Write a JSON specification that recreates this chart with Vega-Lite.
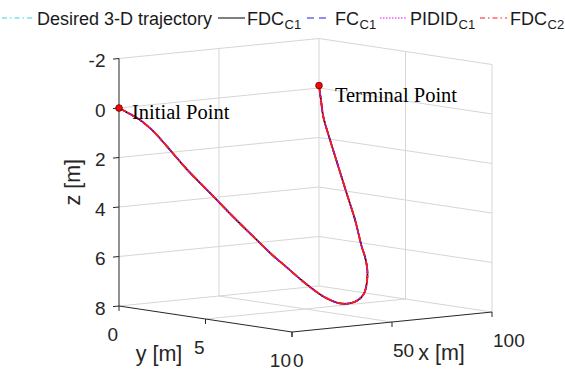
{
"$schema":"https://vega.github.io/schema/vega-lite/v6.json",
"width":565,"height":370,"padding":0,"autosize":{"type":"none"},
"background":"white",
"config":{"view":{"stroke":null},"text":{"font":"Liberation Sans"}},
"datasets":{
 "grid":[
  {"x1":0,"y1":0,"z1":-2,"x2":100,"y2":0,"z2":-2},
  {"x1":0,"y1":0,"z1":0,"x2":100,"y2":0,"z2":0},
  {"x1":0,"y1":0,"z1":2,"x2":100,"y2":0,"z2":2},
  {"x1":0,"y1":0,"z1":4,"x2":100,"y2":0,"z2":4},
  {"x1":0,"y1":0,"z1":6,"x2":100,"y2":0,"z2":6},
  {"x1":0,"y1":0,"z1":8,"x2":100,"y2":0,"z2":8},
  {"x1":50,"y1":0,"z1":-2,"x2":50,"y2":0,"z2":8},
  {"x1":100,"y1":0,"z1":-2,"x2":100,"y2":0,"z2":8},
  {"x1":100,"y1":0,"z1":-2,"x2":100,"y2":10,"z2":-2},
  {"x1":100,"y1":0,"z1":0,"x2":100,"y2":10,"z2":0},
  {"x1":100,"y1":0,"z1":2,"x2":100,"y2":10,"z2":2},
  {"x1":100,"y1":0,"z1":4,"x2":100,"y2":10,"z2":4},
  {"x1":100,"y1":0,"z1":6,"x2":100,"y2":10,"z2":6},
  {"x1":100,"y1":0,"z1":8,"x2":100,"y2":10,"z2":8},
  {"x1":100,"y1":5,"z1":-2,"x2":100,"y2":5,"z2":8},
  {"x1":100,"y1":10,"z1":-2,"x2":100,"y2":10,"z2":8},
  {"x1":50,"y1":0,"z1":8,"x2":50,"y2":10,"z2":8},
  {"x1":0,"y1":5,"z1":8,"x2":100,"y2":5,"z2":8}
 ],
 "axes":[
  {"x1":0,"y1":0,"z1":-2,"x2":0,"y2":0,"z2":8},
  {"x1":0,"y1":0,"z1":8,"x2":0,"y2":10,"z2":8},
  {"x1":0,"y1":10,"z1":8,"x2":100,"y2":10,"z2":8}
 ],
 "zticks":[{"z":-2},{"z":0},{"z":2},{"z":4},{"z":6},{"z":8}],
 "xticks":[{"x":0},{"x":50},{"x":100}],
 "yticks":[{"y":0},{"y":5},{"y":10}],
 "traj":[
  {"t":1,"x":0,"y":0,"z":0},
  {"t":2,"x":2.65,"y":0.33,"z":0.23},
  {"t":3,"x":4.7,"y":0.67,"z":0.45},
  {"t":4,"x":8.35,"y":1.0,"z":0.89},
  {"t":5,"x":12.35,"y":1.33,"z":1.5},
  {"t":6,"x":19.4,"y":1.67,"z":2.45},
  {"t":7,"x":29.85,"y":2.0,"z":3.6},
  {"t":8,"x":36.85,"y":2.33,"z":4.44},
  {"t":9,"x":47.4,"y":2.67,"z":5.56},
  {"t":10,"x":51.05,"y":3.0,"z":6.06},
  {"t":11,"x":55.05,"y":3.33,"z":6.53},
  {"t":12,"x":60.4,"y":3.67,"z":7.12},
  {"t":13,"x":65.9,"y":4.0,"z":7.64},
  {"t":14,"x":68.05,"y":4.33,"z":7.85},
  {"t":15,"x":70.1,"y":4.67,"z":7.97},
  {"t":16,"x":72.25,"y":5.0,"z":7.95},
  {"t":17,"x":79,"y":4.7,"z":7.9},
  {"t":18,"x":85,"y":4.34,"z":7.72},
  {"t":19,"x":89,"y":4.03,"z":7.38},
  {"t":20,"x":92,"y":3.72,"z":6.9},
  {"t":21,"x":94,"y":3.35,"z":6.42},
  {"t":22,"x":95.5,"y":2.99,"z":6.06},
  {"t":23,"x":96.5,"y":2.49,"z":5.04},
  {"t":24,"x":97.3,"y":1.91,"z":4.03},
  {"t":25,"x":98,"y":1.35,"z":3.02},
  {"t":26,"x":98.7,"y":0.79,"z":2.01},
  {"t":27,"x":99.3,"y":0.33,"z":1.12},
  {"t":28,"x":99.7,"y":0.15,"z":0.47},
  {"t":29,"x":100,"y":0,"z":-0.1}
 ],
 "ends":[{"x":0,"y":0,"z":0},{"x":100,"y":0,"z":-0.1}],
 "notes":[{"x":6.5,"y":0,"z":0.5,"label":"Initial Point"},{"x":100,"y":0.92,"z":0.45,"label":"Terminal Point"}],
 "legendLines":[
  {"series":"Desired 3-D trajectory","a":2,"b":32},
  {"series":"FDC_C1","a":218,"b":245},
  {"series":"FC_C1","a":307,"b":331},
  {"series":"PIDID_C1","a":380,"b":407},
  {"series":"FDC_C2","a":480,"b":507}
 ],
 "legendMain":[
  {"label":"Desired 3-D trajectory","a":37},
  {"label":"FDC","a":247},
  {"label":"FC","a":335},
  {"label":"PIDID","a":410},
  {"label":"FDC","a":510}
 ],
 "legendSub":[
  {"label":"C1","a":284.5},
  {"label":"C1","a":359.5},
  {"label":"C1","a":458.5},
  {"label":"C2","a":547.5}
 ]
},
"layer":[
 {"data":{"name":"grid"},
  "transform":[
   {"calculate":"119 + 2*datum.x1 + 17.3*datum.y1","as":"px1"},
   {"calculate":"108 + 24.75*datum.z1 - 0.2*datum.x1 + 2.6*datum.y1","as":"py1"},
   {"calculate":"119 + 2*datum.x2 + 17.3*datum.y2","as":"px2"},
   {"calculate":"108 + 24.75*datum.z2 - 0.2*datum.x2 + 2.6*datum.y2","as":"py2"}],
  "mark":{"type":"rule","stroke":"#d6d6d6","strokeWidth":1},
  "encoding":{
   "x":{"field":"px1","type":"quantitative","scale":{"domain":[0,565],"nice":false,"zero":false},"axis":null},
   "y":{"field":"py1","type":"quantitative","scale":{"domain":[0,370],"nice":false,"zero":false,"reverse":true},"axis":null},
   "x2":{"field":"px2"},"y2":{"field":"py2"}}},
 {"data":{"name":"axes"},
  "transform":[
   {"calculate":"119 + 2*datum.x1 + 17.3*datum.y1","as":"px1"},
   {"calculate":"108 + 24.75*datum.z1 - 0.2*datum.x1 + 2.6*datum.y1","as":"py1"},
   {"calculate":"119 + 2*datum.x2 + 17.3*datum.y2","as":"px2"},
   {"calculate":"108 + 24.75*datum.z2 - 0.2*datum.x2 + 2.6*datum.y2","as":"py2"}],
  "mark":{"type":"rule","stroke":"#262626","strokeWidth":1},
  "encoding":{
   "x":{"field":"px1","type":"quantitative","scale":{"domain":[0,565],"nice":false,"zero":false},"axis":null},
   "y":{"field":"py1","type":"quantitative","scale":{"domain":[0,370],"nice":false,"zero":false,"reverse":true},"axis":null},
   "x2":{"field":"px2"},"y2":{"field":"py2"}}},
 {"data":{"name":"zticks"},
  "transform":[
   {"calculate":"119","as":"px1"},
   {"calculate":"108 + 24.75*datum.z","as":"py1"},
   {"calculate":"119 + 2*(-3)","as":"px2"},
   {"calculate":"108 + 24.75*datum.z + 0.6","as":"py2"}],
  "mark":{"type":"rule","stroke":"#262626","strokeWidth":1},
  "encoding":{
   "x":{"field":"px1","type":"quantitative","scale":{"domain":[0,565],"nice":false,"zero":false},"axis":null},
   "y":{"field":"py1","type":"quantitative","scale":{"domain":[0,370],"nice":false,"zero":false,"reverse":true},"axis":null},
   "x2":{"field":"px2"},"y2":{"field":"py2"}}},
 {"data":{"name":"yticks"},
  "transform":[
   {"calculate":"119 + 17.3*datum.y","as":"px1"},
   {"calculate":"108 + 24.75*8 + 2.6*datum.y","as":"py1"},
   {"calculate":"108 + 24.75*8.2 + 2.6*datum.y","as":"py2"}],
  "mark":{"type":"rule","stroke":"#262626","strokeWidth":1},
  "encoding":{
   "x":{"field":"px1","type":"quantitative","scale":{"domain":[0,565],"nice":false,"zero":false},"axis":null},
   "y":{"field":"py1","type":"quantitative","scale":{"domain":[0,370],"nice":false,"zero":false,"reverse":true},"axis":null},
   "y2":{"field":"py2"}}},
 {"data":{"name":"xticks"},
  "transform":[
   {"calculate":"119 + 2*datum.x + 17.3*10","as":"px1"},
   {"calculate":"108 + 24.75*8 - 0.2*datum.x + 2.6*10","as":"py1"},
   {"calculate":"108 + 24.75*8.2 - 0.2*datum.x + 2.6*10","as":"py2"}],
  "mark":{"type":"rule","stroke":"#262626","strokeWidth":1},
  "encoding":{
   "x":{"field":"px1","type":"quantitative","scale":{"domain":[0,565],"nice":false,"zero":false},"axis":null},
   "y":{"field":"py1","type":"quantitative","scale":{"domain":[0,370],"nice":false,"zero":false,"reverse":true},"axis":null},
   "y2":{"field":"py2"}}},
 {"data":{"name":"zticks"},
  "transform":[
   {"calculate":"119","as":"px"},
   {"calculate":"108 + 24.75*datum.z","as":"py"}],
  "mark":{"type":"text","align":"right","baseline":"middle","dx":-13.5,"dy":2.5,"fontSize":19,"fill":"#262626"},
  "encoding":{
   "x":{"field":"px","type":"quantitative","scale":{"domain":[0,565],"nice":false,"zero":false},"axis":null},
   "y":{"field":"py","type":"quantitative","scale":{"domain":[0,370],"nice":false,"zero":false,"reverse":true},"axis":null},
   "text":{"field":"z","type":"nominal"}}},
 {"data":{"name":"yticks"},
  "transform":[
   {"calculate":"119 + 17.3*datum.y","as":"px"},
   {"calculate":"108 + 24.75*8 + 2.6*datum.y","as":"py"}],
  "mark":{"type":"text","align":"right","baseline":"middle","dx":-1,"dy":29,"fontSize":19,"fill":"#262626"},
  "encoding":{
   "x":{"field":"px","type":"quantitative","scale":{"domain":[0,565],"nice":false,"zero":false},"axis":null},
   "y":{"field":"py","type":"quantitative","scale":{"domain":[0,370],"nice":false,"zero":false,"reverse":true},"axis":null},
   "text":{"field":"y","type":"nominal"}}},
 {"data":{"name":"xticks"},
  "transform":[
   {"calculate":"119 + 2*datum.x + 17.3*10","as":"px"},
   {"calculate":"108 + 24.75*8 - 0.2*datum.x + 2.6*10","as":"py"}],
  "mark":{"type":"text","align":"left","baseline":"middle","dx":1,"dy":29,"fontSize":19,"fill":"#262626"},
  "encoding":{
   "x":{"field":"px","type":"quantitative","scale":{"domain":[0,565],"nice":false,"zero":false},"axis":null},
   "y":{"field":"py","type":"quantitative","scale":{"domain":[0,370],"nice":false,"zero":false,"reverse":true},"axis":null},
   "text":{"field":"x","type":"nominal"}}},
 {"data":{"values":[{"x":0,"y":0,"z":3,"label":"z [m]"}]},
  "transform":[
   {"calculate":"119 + 2*datum.x + 17.3*datum.y","as":"px"},
   {"calculate":"108 + 24.75*datum.z - 0.2*datum.x + 2.6*datum.y","as":"py"}],
  "mark":{"type":"text","align":"center","baseline":"middle","angle":270,"dy":-45,"fontSize":21.5,"fill":"#262626"},
  "encoding":{
   "x":{"field":"px","type":"quantitative","scale":{"domain":[0,565],"nice":false,"zero":false},"axis":null},
   "y":{"field":"py","type":"quantitative","scale":{"domain":[0,370],"nice":false,"zero":false,"reverse":true},"axis":null},
   "text":{"field":"label","type":"nominal"}}},
 {"data":{"values":[{"x":0,"y":5,"z":8,"label":"y [m]"}]},
  "transform":[
   {"calculate":"119 + 2*datum.x + 17.3*datum.y","as":"px"},
   {"calculate":"108 + 24.75*datum.z - 0.2*datum.x + 2.6*datum.y","as":"py"}],
  "mark":{"type":"text","align":"center","baseline":"middle","dx":-46.5,"dy":36,"fontSize":21.5,"fill":"#262626"},
  "encoding":{
   "x":{"field":"px","type":"quantitative","scale":{"domain":[0,565],"nice":false,"zero":false},"axis":null},
   "y":{"field":"py","type":"quantitative","scale":{"domain":[0,370],"nice":false,"zero":false,"reverse":true},"axis":null},
   "text":{"field":"label","type":"nominal"}}},
 {"data":{"values":[{"x":50,"y":10,"z":8,"label":"x [m]"}]},
  "transform":[
   {"calculate":"119 + 2*datum.x + 17.3*datum.y","as":"px"},
   {"calculate":"108 + 24.75*datum.z - 0.2*datum.x + 2.6*datum.y","as":"py"}],
  "mark":{"type":"text","align":"center","baseline":"middle","dx":49.5,"dy":32,"fontSize":21.5,"fill":"#262626"},
  "encoding":{
   "x":{"field":"px","type":"quantitative","scale":{"domain":[0,565],"nice":false,"zero":false},"axis":null},
   "y":{"field":"py","type":"quantitative","scale":{"domain":[0,370],"nice":false,"zero":false,"reverse":true},"axis":null},
   "text":{"field":"label","type":"nominal"}}},
 {"data":{"name":"traj"},
  "transform":[
   {"calculate":"119 + 2*datum.x + 17.3*datum.y","as":"px"},
   {"calculate":"108 + 24.75*datum.z - 0.2*datum.x + 2.6*datum.y","as":"py"}],
  "mark":{"type":"line","interpolate":"catmull-rom","stroke":"#2fd9e6","strokeWidth":1.5,"strokeDash":[5,3,1.5,3]},
  "encoding":{
   "x":{"field":"px","type":"quantitative","scale":{"domain":[0,565],"nice":false,"zero":false},"axis":null},
   "y":{"field":"py","type":"quantitative","scale":{"domain":[0,370],"nice":false,"zero":false,"reverse":true},"axis":null},
   "order":{"field":"t","type":"quantitative"}}},
 {"data":{"name":"traj"},
  "transform":[
   {"calculate":"119 + 2*datum.x + 17.3*datum.y","as":"px"},
   {"calculate":"108 + 24.75*datum.z - 0.2*datum.x + 2.6*datum.y","as":"py"}],
  "mark":{"type":"line","interpolate":"catmull-rom","stroke":"#000000","strokeWidth":1.6},
  "encoding":{
   "x":{"field":"px","type":"quantitative","scale":{"domain":[0,565],"nice":false,"zero":false},"axis":null},
   "y":{"field":"py","type":"quantitative","scale":{"domain":[0,370],"nice":false,"zero":false,"reverse":true},"axis":null},
   "order":{"field":"t","type":"quantitative"}}},
 {"data":{"name":"traj"},
  "transform":[
   {"calculate":"119 + 2*datum.x + 17.3*datum.y","as":"px"},
   {"calculate":"108 + 24.75*datum.z - 0.2*datum.x + 2.6*datum.y","as":"py"}],
  "mark":{"type":"line","interpolate":"catmull-rom","stroke":"#2020e0","strokeWidth":1.5,"strokeDash":[7,5]},
  "encoding":{
   "x":{"field":"px","type":"quantitative","scale":{"domain":[0,565],"nice":false,"zero":false},"axis":null},
   "y":{"field":"py","type":"quantitative","scale":{"domain":[0,370],"nice":false,"zero":false,"reverse":true},"axis":null},
   "order":{"field":"t","type":"quantitative"}}},
 {"data":{"name":"traj"},
  "transform":[
   {"calculate":"119 + 2*datum.x + 17.3*datum.y","as":"px"},
   {"calculate":"108 + 24.75*datum.z - 0.2*datum.x + 2.6*datum.y","as":"py"}],
  "mark":{"type":"line","interpolate":"catmull-rom","stroke":"#ff00ff","strokeWidth":1.5,"strokeDash":[1.5,1.5]},
  "encoding":{
   "x":{"field":"px","type":"quantitative","scale":{"domain":[0,565],"nice":false,"zero":false},"axis":null},
   "y":{"field":"py","type":"quantitative","scale":{"domain":[0,370],"nice":false,"zero":false,"reverse":true},"axis":null},
   "order":{"field":"t","type":"quantitative"}}},
 {"data":{"name":"traj"},
  "transform":[
   {"calculate":"119 + 2*datum.x + 17.3*datum.y","as":"px"},
   {"calculate":"108 + 24.75*datum.z - 0.2*datum.x + 2.6*datum.y","as":"py"}],
  "mark":{"type":"line","interpolate":"catmull-rom","stroke":"#ff1a1a","strokeWidth":1.9,"strokeDash":[8,2,2,2]},
  "encoding":{
   "x":{"field":"px","type":"quantitative","scale":{"domain":[0,565],"nice":false,"zero":false},"axis":null},
   "y":{"field":"py","type":"quantitative","scale":{"domain":[0,370],"nice":false,"zero":false,"reverse":true},"axis":null},
   "order":{"field":"t","type":"quantitative"}}},
 {"data":{"name":"ends"},
  "transform":[
   {"calculate":"119 + 2*datum.x + 17.3*datum.y","as":"px"},
   {"calculate":"108 + 24.75*datum.z - 0.2*datum.x + 2.6*datum.y","as":"py"}],
  "mark":{"type":"point","filled":true,"fill":"#ff0000","stroke":"#5a0000","strokeWidth":0.8,"size":45,"opacity":1},
  "encoding":{
   "x":{"field":"px","type":"quantitative","scale":{"domain":[0,565],"nice":false,"zero":false},"axis":null},
   "y":{"field":"py","type":"quantitative","scale":{"domain":[0,370],"nice":false,"zero":false,"reverse":true},"axis":null}}},
 {"data":{"name":"notes"},
  "transform":[
   {"calculate":"119 + 2*datum.x + 17.3*datum.y","as":"px"},
   {"calculate":"108 + 24.75*datum.z - 0.2*datum.x + 2.6*datum.y","as":"py"}],
  "mark":{"type":"text","align":"left","baseline":"alphabetic","font":"Liberation Serif","fontSize":20.5,"fill":"#000000"},
  "encoding":{
   "x":{"field":"px","type":"quantitative","scale":{"domain":[0,565],"nice":false,"zero":false},"axis":null},
   "y":{"field":"py","type":"quantitative","scale":{"domain":[0,370],"nice":false,"zero":false,"reverse":true},"axis":null},
   "text":{"field":"label","type":"nominal"}}},
 {"data":{"name":"legendLines"},
  "mark":{"type":"rule","strokeWidth":1.2},
  "encoding":{
   "x":{"field":"a","type":"quantitative","scale":{"domain":[0,565],"nice":false,"zero":false},"axis":null},
   "x2":{"field":"b"},
   "y":{"datum":18,"type":"quantitative","scale":{"domain":[0,370],"nice":false,"zero":false,"reverse":true},"axis":null},
   "color":{"field":"series","type":"nominal","legend":null,"scale":{"domain":["Desired 3-D trajectory","FDC_C1","FC_C1","PIDID_C1","FDC_C2"],"range":["#2fd9e6","#000000","#2020e0","#ff00ff","#ff1a1a"]}},
   "strokeDash":{"field":"series","type":"nominal","legend":null,"scale":{"domain":["Desired 3-D trajectory","FDC_C1","FC_C1","PIDID_C1","FDC_C2"],"range":[[5,3,1.5,3],[1,0],[7,5],[1.5,1.5],[5,3,1.5,3]]}}}},
 {"data":{"name":"legendMain"},
  "mark":{"type":"text","align":"left","baseline":"alphabetic","fontSize":18,"fill":"#1a1a1a"},
  "encoding":{
   "x":{"field":"a","type":"quantitative","scale":{"domain":[0,565],"nice":false,"zero":false},"axis":null},
   "y":{"datum":25,"type":"quantitative","scale":{"domain":[0,370],"nice":false,"zero":false,"reverse":true},"axis":null},
   "text":{"field":"label","type":"nominal"}}},
 {"data":{"name":"legendSub"},
  "mark":{"type":"text","align":"left","baseline":"alphabetic","fontSize":13,"fill":"#1a1a1a"},
  "encoding":{
   "x":{"field":"a","type":"quantitative","scale":{"domain":[0,565],"nice":false,"zero":false},"axis":null},
   "y":{"datum":28.5,"type":"quantitative","scale":{"domain":[0,370],"nice":false,"zero":false,"reverse":true},"axis":null},
   "text":{"field":"label","type":"nominal"}}}
]
}
